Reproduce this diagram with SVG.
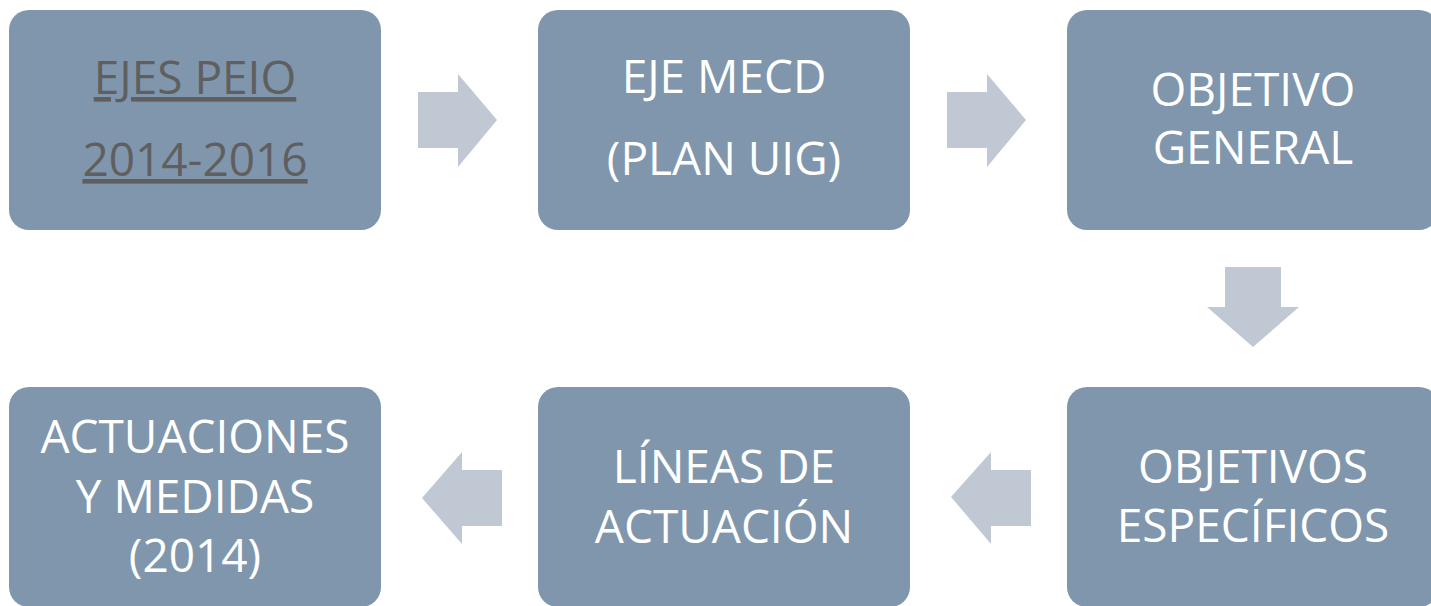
<svg xmlns="http://www.w3.org/2000/svg" width="1431" height="606" viewBox="0 0 1431 606">
<style>
.box{fill:#7f96ad}
.arr{fill:#c0c8d4}
text{font-family:"Open Sans","Noto Sans",sans-serif;font-size:46px;text-anchor:middle;fill:#ffffff}
.link{fill:#5f5f5f;text-decoration:underline}
</style>
<rect width="1431" height="606" fill="#ffffff"/>
<g id="connectors">
<polygon class="arr" points="418,92 458,92 458,74 497,120 458,167 458,148 418,148"/>
<polygon class="arr" points="947,92 987,92 987,74 1026,120 987,167 987,148 947,148"/>
<polygon class="arr" points="1225,267 1281,267 1281,307 1299,307 1253,347 1207,307 1225,307"/>
<polygon class="arr" points="502,470 462,470 462,452 422,498 462,544 462,526 502,526"/>
<polygon class="arr" points="1031,470 991,470 991,452 951,497 991,544 991,526 1031,526"/>
</g>
<g id="n1">
<rect class="box" x="9" y="10" width="372" height="220" rx="20"/>
<text class="link" x="195" y="94">EJES PEIO</text>
<text class="link" x="195" y="176">2014-2016</text>
</g>
<g id="n2">
<rect class="box" x="538" y="10" width="372" height="220" rx="20"/>
<text x="724" y="93">EJE MECD</text>
<text x="724" y="175">(PLAN UIG)</text>
</g>
<g id="n3">
<rect class="box" x="1067" y="10" width="372" height="220" rx="20"/>
<text x="1253" y="106">OBJETIVO</text>
<text x="1253" y="164">GENERAL</text>
</g>
<g id="n4">
<rect class="box" x="1067" y="387" width="372" height="220" rx="20"/>
<text x="1253" y="483">OBJETIVOS</text>
<text x="1253" y="542">ESPECÍFICOS</text>
</g>
<g id="n5">
<rect class="box" x="538" y="387" width="372" height="220" rx="20"/>
<text x="724" y="483">LÍNEAS DE</text>
<text x="724" y="543">ACTUACIÓN</text>
</g>
<g id="n6">
<rect class="box" x="9" y="387" width="372" height="220" rx="20"/>
<text x="195" y="453">ACTUACIONES</text>
<text x="195" y="513">Y MEDIDAS</text>
<text x="195" y="572">(2014)</text>
</g>
</svg>
